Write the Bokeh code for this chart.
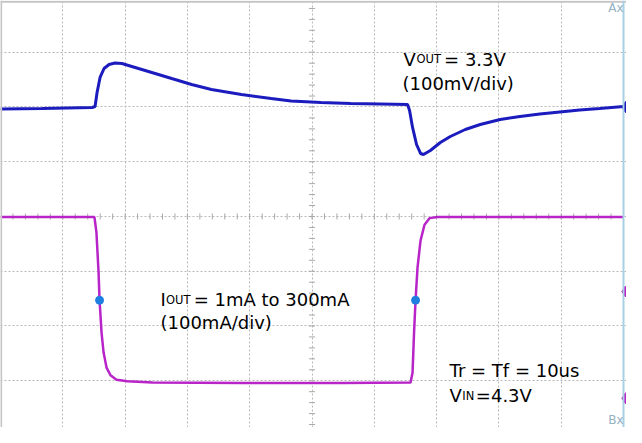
import numpy as np
from bokeh.plotting import figure
from bokeh.models import Range1d, Span, Label, FixedTicker
from bokeh.embed import file_html
from bokeh.resources import INLINE

# ---- data (time in microseconds, 50 us/div) ----
vout_t = [0, 33.5, 73.5, 75.9, 77.5, 79.9, 83.1, 87.1, 91.9, 97.4, 105.4, 121.4,
          137.4, 153.4, 169.3, 193.3, 217.2, 233.2, 257.2, 281.1, 305.1, 326.7,
          328.3, 330.7, 333.9, 337.1, 339.4, 345.0, 353.0, 361.0, 373.0, 385.0,
          401.0, 416.9, 432.9, 448.9, 464.8, 480.8, 500.0]
# VOUT deviation from 3.3 V, in mV (100 mV/div)
vout_dev_mv = [-3.7, -2.7, -0.9, 0.9, 26.5, 53.9, 70.3, 77.6, 80.3, 79.4, 74.0, 63.0,
               52.0, 41.1, 32.0, 22.8, 15.5, 11.0, 8.2, 6.4, 5.5, 4.6,
               -6.4, -37.4, -68.5, -84.9, -86.7, -79.4, -64.8, -53.9, -41.1, -32.0,
               -22.8, -17.3, -12.8, -9.1, -5.5, -2.7, 0.9]

iout_t = [0, 75.4, 77.0, 78.7, 79.5, 81.1, 82.7, 85.1, 88.3, 93.1, 101.9, 122.0,
          194.2, 274.5, 329.1, 330.7, 331.9, 333.1, 334.7, 337.1, 340.3, 344.3,
          350.7, 500.0]
# IOUT in mA (100 mA/div)
iout_ma = [1, 1, 29, 102, 153, 212, 248, 276, 290, 298, 301, 303,
           304, 304, 303, 285, 212, 153, 93, 44, 15, 3,
           1, 1]

cursor_t = [79.5, 333.1]
cursor_ma = [153, 153]

ref_vout_v = [3.3]
ref_iout_ma = [137, 332]

grid_t = [50, 100, 150, 200, 250, 300, 350, 400, 450]
grid_v = [2.8, 2.9, 3.0, 3.1, 3.2, 3.3, 3.4]

vout_v = [3.3 + d / 1000.0 for d in vout_dev_mv]

BLUE = "#1c1cbe"
MAG = "#b824c8"
FONT = "DejaVu Sans"

p = figure(width=626, height=427, output_backend="svg", toolbar_location=None,
           x_range=Range1d(0, 502.4), y_range=Range1d(2.7146, 3.4945),
           x_axis_location=None, y_axis_location=None, min_border=0)
p.extra_y_ranges = {"i": Range1d(start=385.4, end=-394.5)}
p.outline_line_color = None
p.background_fill_color = "white"
p.border_fill_color = "white"

p.xgrid.ticker = FixedTicker(ticks=grid_t)
p.ygrid.ticker = FixedTicker(ticks=grid_v)
for g in (p.xgrid, p.ygrid):
    g.grid_line_color = "#b8b8b8"
    g.grid_line_dash = "2 2"
    g.grid_line_width = 1

# minor ticks on centre lines
tick_v = np.arange(2.72, 3.49, 0.02)
tick_t = np.arange(10, 500, 10)
p.scatter(x=[250] * len(tick_v), y=tick_v, marker="dash", size=6,
          line_color="#a8a8a8", line_width=1)
p.scatter(x=tick_t, y=[3.1] * len(tick_t), marker="dash", angle=np.pi / 2, size=6,
          line_color="#a8a8a8", line_width=1)

# screen borders
p.add_layout(Span(location=0.5, dimension="height", line_color="#c4c4c4", line_width=2))
p.add_layout(Span(location=3.492, dimension="width", line_color="#c4c4c4", line_width=2))
p.add_layout(Span(location=500, dimension="height", line_color="#a9cfe2", line_width=2))

# traces
p.line(vout_t, vout_v, line_color=BLUE, line_width=3)
p.line(iout_t, iout_ma, line_color=MAG, line_width=2.5, y_range_name="i")
p.scatter(cursor_t, cursor_ma, marker="circle", size=8, fill_color="#1f7fe0",
          line_color="#1f7fe0", y_range_name="i")

# channel reference markers
p.scatter([501.6], ref_vout_v, marker="diamond", size=11, fill_color=BLUE, line_color=BLUE)
p.scatter([501.6] * len(ref_iout_ma), ref_iout_ma, marker="diamond", size=11,
          fill_color=MAG, line_color=MAG, y_range_name="i")

def lab(x, y, text, size="18px", color="black", align="left", baseline="alphabetic"):
    p.add_layout(Label(x=x, y=y, text=text, text_font=FONT, text_font_size=size,
                       text_color=color, text_align=align, text_baseline=baseline))

# VOUT annotation
lab(323.4, 3.387, "V")
lab(333.8, 3.387, "OUT", size="11.5px")
lab(356.0, 3.387, "= 3.3V")
lab(322.6, 3.343, "(100mV/div)")

# IOUT annotation
lab(128.4, 2.948, "I")
lab(132.8, 2.948, "OUT", size="11.5px")
lab(155.0, 2.948, "= 1mA to 300mA")
lab(128.4, 2.906, "(100mA/div)")

# Tr / VIN annotation
lab(360.4, 2.819, "Tr = Tf = 10us")
lab(360.4, 2.773, "V")
lab(370.6, 2.773, "IN", size="11.5px")
lab(381.5, 2.773, "=4.3V")

# Ax / Bx
lab(500, 3.4927, "Ax", size="12px", color="#94b0c4", align="right", baseline="top")
lab(500, 2.716, "Bx", size="12px", color="#94b0c4", align="right", baseline="bottom")

open("out.html", "w").write(file_html(p, INLINE))
